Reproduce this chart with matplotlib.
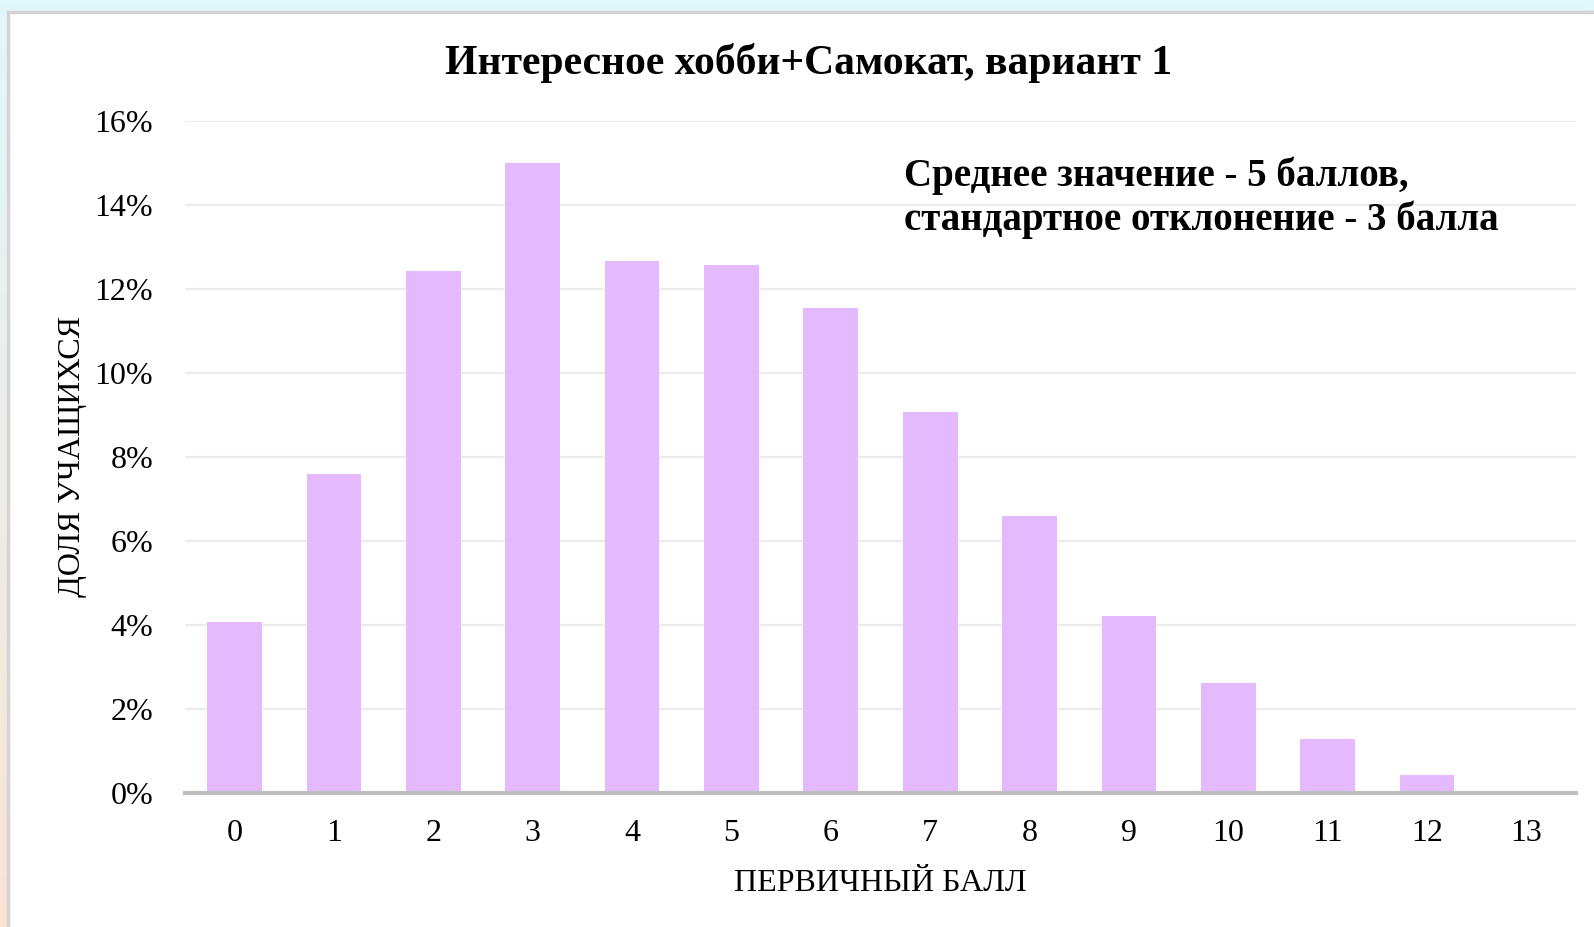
import numpy as np
import matplotlib.pyplot as plt
from matplotlib.patches import Rectangle

plt.rcParams['font.family'] = ['Liberation Serif', 'DejaVu Serif']

# ---- data ----
scores = list(range(14))
shares = [4.07, 7.58, 12.42, 14.99, 12.66, 12.57, 11.55, 9.06, 6.59, 4.21, 2.61, 1.28, 0.42, 0.0]
y_ticks = [0, 2, 4, 6, 8, 10, 12, 14, 16]

title = "Интересное хобби+Самокат, вариант 1"
note = "Среднее значение - 5 баллов,\nстандартное отклонение - 3 балла"
xlabel = "ПЕРВИЧНЫЙ БАЛЛ"
ylabel = "ДОЛЯ УЧАЩИХСЯ"

W, H = 1594, 927
fig = plt.figure(figsize=(W / 100, H / 100), dpi=100)

# background gradient (cyan top, peach bottom-left)
bg = fig.add_axes([0, 0, 1, 1], zorder=-2)
yy, xx = np.mgrid[0:1:200j, 0:1:200j]
top = np.array([224, 247, 252]) / 255
bot = np.array([250, 228, 212]) / 255
w = (yy * (1 - xx))[..., None]
img = top * (1 - w) + bot * w
bg.imshow(img, extent=[0, 1, 0, 1], origin='upper', aspect='auto')
bg.axis('off')
bg.add_patch(Rectangle((8 / W, -0.01), 1.0, 1 - 12 / H + 0.01, transform=bg.transAxes,
                       facecolor='white', edgecolor='#d4d4d4', linewidth=2.5))

ax = fig.add_axes([185 / W, 1 - 792.7 / H, (1576 - 185) / W, (792.7 - 120.7) / H])
ax.set_facecolor('none')
ax.bar(scores, shares, width=0.55, color='#E5B9FE', zorder=2)

ax.set_xlim(-0.5, 13.5)
ax.set_ylim(0, 16)
ax.set_yticks(y_ticks)
ax.set_yticklabels([f"{v}%" for v in y_ticks])
ax.set_xticks(scores)
ax.set_xticklabels([str(s) for s in scores])
ax.tick_params(axis='both', length=0, labelsize=23)
ax.tick_params(axis='y', pad=23)
ax.tick_params(axis='x', pad=19)
ax.grid(axis='y', color='#ececec', linewidth=1.6, zorder=0)
for side in ['top', 'right', 'left']:
    ax.spines[side].set_visible(False)
ax.spines['bottom'].set_color('#bfbfbf')
ax.spines['bottom'].set_linewidth(3)
ax.spines['bottom'].set_zorder(3)

ax.set_xlabel(xlabel, fontsize=23, labelpad=15)
ax.set_ylabel(ylabel, fontsize=23, labelpad=5)

fig.text(0.507, 1 - 63 / H, title, ha='center', va='center', fontsize=30, fontweight='bold')
fig.text(904 / W, 1 - 198 / H, note, ha='left', va='center', fontsize=28,
         fontweight='bold', linespacing=1.2)

fig.savefig('out.png', dpi=100)
